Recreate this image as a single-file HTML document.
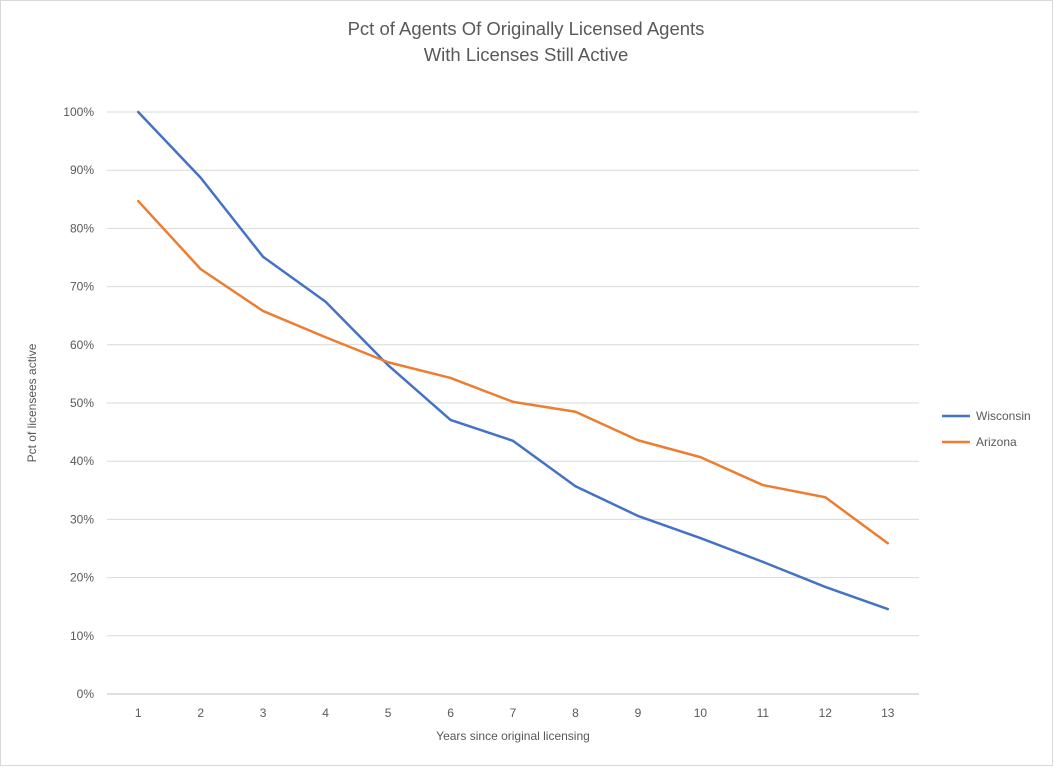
<!DOCTYPE html>
<html><head><meta charset="utf-8"><style>
body{margin:0;background:#fff;font-family:"Liberation Sans",Arial,sans-serif}
svg text{font-family:"Liberation Sans",Arial,sans-serif}
</style></head><body>
<svg id="chart" width="1054" height="767" xmlns="http://www.w3.org/2000/svg">
<rect x="0.5" y="0.5" width="1052" height="765" fill="#fff" stroke="#d9d9d9"/>
<text x="526" y="35" text-anchor="middle" font-size="18.5" fill="#595959">Pct of Agents Of Originally Licensed Agents</text>
<text x="526" y="61" text-anchor="middle" font-size="18.5" fill="#595959">With Licenses Still Active</text>
<g id="grid"></g>
<g id="yticks"></g>
<g id="xticks"></g>
<g id="series"></g>
<text x="513" y="740" text-anchor="middle" font-size="12" fill="#595959">Years since original licensing</text>
<text transform="translate(36,403) rotate(-90)" text-anchor="middle" font-size="12" fill="#595959">Pct of licensees active</text>
<g>
<line x1="942" y1="416" x2="970" y2="416" stroke="#4472c4" stroke-width="2.5"/>
<text x="976" y="420" font-size="12" fill="#595959">Wisconsin</text>
<line x1="942" y1="442" x2="970" y2="442" stroke="#ed7d31" stroke-width="2.5"/>
<text x="976" y="446" font-size="12" fill="#595959">Arizona</text>
</g>
</svg>
<script>
const categories=[1,2,3,4,5,6,7,8,9,10,11,12,13];
const wisconsin=[100,88.7,75.1,67.4,56.5,47.1,43.5,35.7,30.6,26.8,22.7,18.4,14.6];
const arizona=[84.7,73.0,65.8,61.3,57.0,54.3,50.2,48.5,43.6,40.7,35.9,33.8,25.9];
const yTicks=[0,10,20,30,40,50,60,70,80,90,100];
const NS="http://www.w3.org/2000/svg";
const L=107,R=919,Y0=694,Y1=112;
const xs=i=>L+(R-L)/categories.length*(i+0.5);
const ys=v=>Y0-(Y0-Y1)*v/100;
function mk(t,a,p){const e=document.createElementNS(NS,t);for(const k in a)e.setAttribute(k,a[k]);p.appendChild(e);return e;}
const grid=document.getElementById('grid'),yt=document.getElementById('yticks'),xt=document.getElementById('xticks'),se=document.getElementById('series');
yTicks.forEach(v=>{
 const l=mk('line',{x1:L,x2:R,y1:ys(v),y2:ys(v),stroke:v===0?'#bfbfbf':'#d9d9d9','stroke-width':1},grid);
 
 
 const t=mk('text',{x:94,y:ys(v)+4,'text-anchor':'end','font-size':12,fill:'#595959'},yt);
 t.textContent=v+'%';
 
 
});
categories.forEach((c,i)=>{
 const t=mk('text',{x:xs(i),y:717,'text-anchor':'middle','font-size':12,fill:'#595959'},xt);
 t.textContent=c;
 
 
});
[[wisconsin,'#4472c4','wisconsin'],[arizona,'#ed7d31','arizona']].forEach(([d,c,n])=>{
 const p=mk('polyline',{points:d.map((v,i)=>xs(i)+','+ys(v)).join(' '),fill:'none',stroke:c,'stroke-width':2.5,'stroke-linejoin':'round','stroke-linecap':'round'},se);
 
 
});
</script>
</body></html>
